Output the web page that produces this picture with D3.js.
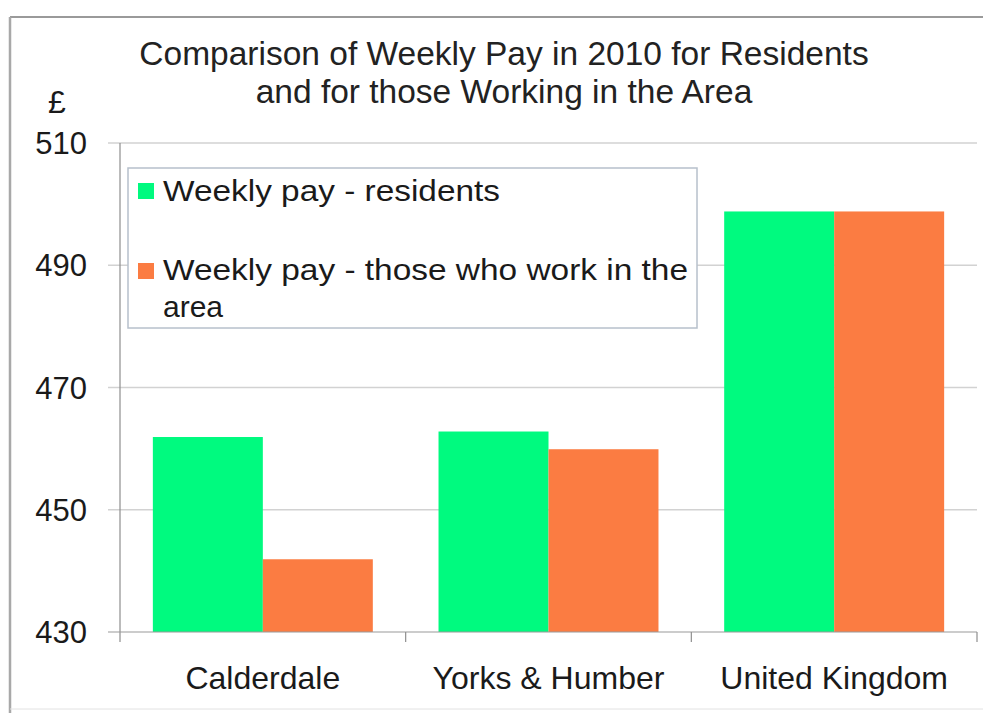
<!DOCTYPE html>
<html>
<head>
<meta charset="utf-8">
<script src="https://cdn.jsdelivr.net/npm/d3@7"></script>
<style>
  html, body { margin: 0; padding: 0; background: #fff; }
  svg { display: block; font-family: Arial, "Liberation Sans", sans-serif; }
</style>
</head>
<body>
<svg id="chart" width="983" height="713"></svg>
<script>
const titleLines = ["Comparison of Weekly Pay in 2010 for Residents", "and for those Working in the Area"];
const yUnit = "£";
const categories = ["Calderdale", "Yorks & Humber", "United Kingdom"];
const seriesNames = ["Weekly pay - residents", "Weekly pay - those who work in the area"];
const residents = [461.9, 462.8, 498.8];
const workplace = [441.9, 459.9, 498.8];
const yTicks = [430, 450, 470, 490, 510];
const colors = ["#00fa7f", "#fb7c42"];

const svg = d3.select("#chart");
svg.append("rect").attr("width", 983).attr("height", 713).attr("fill", "#fff");

// outer frame
svg.append("line").attr("x1", 10).attr("x2", 983).attr("y1", 17).attr("y2", 17).attr("stroke", "#9a9a9a").attr("stroke-width", 2);
svg.append("line").attr("x1", 10).attr("x2", 10).attr("y1", 17).attr("y2", 713).attr("stroke", "#a8a8a8").attr("stroke-width", 2.5);
svg.append("line").attr("x1", 10).attr("x2", 983).attr("y1", 709).attr("y2", 709).attr("stroke", "#e2e2e2").attr("stroke-width", 1);

const plotL = 120, plotR = 977, plotT = 143, plotB = 632;
const y = d3.scaleLinear().domain([430, 510]).range([plotB, plotT]);
const x0 = d3.scaleBand().domain(categories).range([plotL, plotR]).padding(0);
const x1 = d3.scaleBand().domain(seriesNames).range([0, x0.bandwidth()]).paddingInner(0).paddingOuter(0.2987);

// gridlines
svg.append("g").selectAll("line").data(yTicks.filter(d => d > 430)).join("line")
  .attr("x1", 108).attr("x2", plotR)
  .attr("y1", d => y(d)).attr("y2", d => y(d))
  .attr("stroke", "#d2d2d2").attr("stroke-width", 1.5);

// y tick labels
svg.append("g").selectAll("text").data(yTicks).join("text")
  .attr("x", 87).attr("y", d => y(d))
  .attr("dy", "0.36em")
  .attr("text-anchor", "end")
  .attr("font-size", 31)
  .attr("fill", "#1a1a1a")
  .text(d => d);

svg.append("text").attr("x", 57).attr("y", 113).attr("text-anchor", "middle")
  .attr("font-size", 32).attr("fill", "#1a1a1a").text(yUnit);

// bars
const rows = categories.map((c, i) => ({ cat: c, vals: [residents[i], workplace[i]] }));
const groups = svg.append("g").selectAll("g").data(rows).join("g")
  .attr("transform", d => `translate(${x0(d.cat)},0)`);
groups.selectAll("rect").data(d => d.vals.map((v, j) => ({ key: seriesNames[j], v, j }))).join("rect")
  .attr("x", d => x1(d.key))
  .attr("width", x1.bandwidth())
  .attr("y", d => y(d.v))
  .attr("height", d => y(430) - y(d.v))
  .attr("fill", d => colors[d.j]);

// axes lines
svg.append("line").attr("x1", plotL).attr("x2", plotL).attr("y1", plotT).attr("y2", plotB + 10).attr("stroke", "#8e8e8e").attr("stroke-width", 1.2);
svg.append("line").attr("x1", 108).attr("x2", plotR).attr("y1", plotB).attr("y2", plotB).attr("stroke", "#9a9a9a").attr("stroke-width", 1.2);
const bounds = categories.map(c => x0(c)).concat([plotR]);
svg.append("g").selectAll("line").data(bounds.slice(1)).join("line")
  .attr("x1", d => d).attr("x2", d => d).attr("y1", plotB).attr("y2", plotB + 10)
  .attr("stroke", "#8e8e8e").attr("stroke-width", 1.2);

// category labels
svg.append("g").selectAll("text").data(categories).join("text")
  .attr("x", d => x0(d) + x0.bandwidth() / 2)
  .attr("y", 689)
  .attr("text-anchor", "middle")
  .attr("font-size", 32)
  .attr("fill", "#1a1a1a")
  .text(d => d);

// title
svg.append("g").selectAll("text").data(titleLines).join("text")
  .attr("x", 504).attr("y", (d, i) => 65 + i * 38)
  .attr("text-anchor", "middle")
  .attr("font-size", 33.5)
  .attr("fill", "#222")
  .text(d => d);

// legend
const lg = svg.append("g");
lg.append("rect").attr("x", 128).attr("y", 168).attr("width", 569).attr("height", 160)
  .attr("fill", "#fff").attr("stroke", "#b7c0cb").attr("stroke-width", 1.5);
const legendLayout = [
  { lines: ["Weekly pay - residents"], widths: [337], markY: 183, base: 201 },
  { lines: ["Weekly pay - those who work in the", "area"], widths: [525, null], markY: 263, base: 280 }
];
legendLayout.forEach((e, i) => {
  lg.append("rect").attr("x", 138).attr("y", e.markY).attr("width", 16).attr("height", 16).attr("fill", colors[i]);
  e.lines.forEach((t, k) => {
    const tx = lg.append("text").attr("x", 163).attr("y", e.base + k * 37)
      .attr("font-size", 30)
      .attr("fill", "#1a1a1a")
      .text(t);
    if (e.widths[k]) tx.attr("textLength", e.widths[k]).attr("lengthAdjust", "spacingAndGlyphs");
  });
});
</script>
</body>
</html>
